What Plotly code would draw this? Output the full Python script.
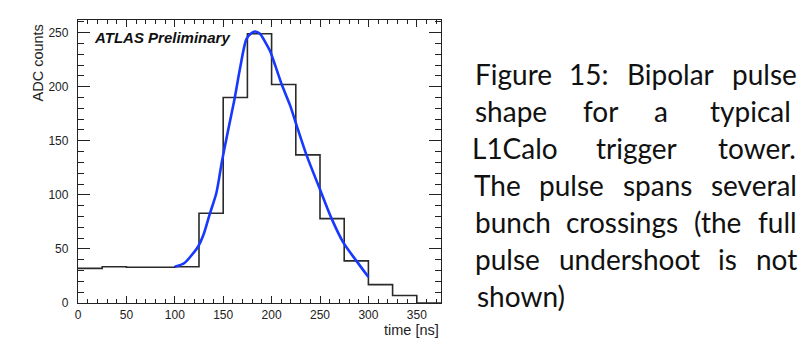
import plotly.graph_objects as go

# ---- data ----
bin_edges = [0, 25, 50, 75, 100, 125, 150, 175, 200, 225, 250, 275, 300, 325, 350, 375]
adc_counts = [32, 33.5, 33, 33, 33.5, 83, 190, 249, 202, 137, 78, 39, 17, 7, 0]

fit_time = [100, 110, 119, 124, 130, 136, 143, 148.5, 154, 162, 167.4, 174, 179, 183,
            188, 193, 198.4, 204, 210.5, 219, 227, 236, 250, 262, 274, 288, 300]
fit_adc = [33.5, 37, 46, 52, 64, 82, 102, 130, 155, 190, 217, 244, 249.5, 251,
           249, 242, 233, 219, 202, 183, 161, 137, 105, 78, 56, 38.5, 24]

x_ticks = [0, 50, 100, 150, 200, 250, 300, 350]
y_ticks = [0, 50, 100, 150, 200, 250]

caption_lines = [
    ["Figure", "15:", "Bipolar", "pulse"],
    ["shape", "for", "a", "typical"],
    ["L1Calo", "trigger", "tower."],
    ["The", "pulse", "spans", "several"],
    ["bunch", "crossings", "(the", "full"],
    ["pulse", "undershoot", "is", "not"],
    ["shown)"],
]

# ---- layout geometry (pixels) ----
W, H = 801, 343
ML, MR, MT, MB = 78, 360, 20, 40
PW, PH = W - ML - MR, H - MT - MB


def px(xp):
    return (xp - ML) / PW


def py(yp):
    return 1 - (yp - MT) / PH


step_x = bin_edges[:]
step_y = adc_counts + [adc_counts[-1]]

fig = go.Figure()
fig.add_trace(go.Scatter(x=step_x, y=step_y, mode="lines", line_shape="hv",
                         line=dict(color="#2a2a2a", width=1.6), hoverinfo="skip"))
fig.add_trace(go.Scatter(x=fit_time, y=fit_adc, mode="lines", line_shape="spline",
                         line=dict(color="#1638ff", width=2.6, smoothing=0.8), hoverinfo="skip"))

axis_font = dict(family="Liberation Sans, Arial, sans-serif", size=12, color="#222")
title_font = dict(family="Liberation Sans, Arial, sans-serif", size=14.5, color="#222")
fig.update_xaxes(range=[0, 375], tickvals=x_ticks, ticks="inside", ticklen=7, tickwidth=1,
                 tickcolor="#222", showline=True, linecolor="#222", linewidth=1.3,
                 mirror="allticks", showgrid=False, zeroline=False, tickfont=axis_font,
                 minor=dict(dtick=10, ticklen=4, ticks="inside", tickcolor="#222", tickwidth=1))
fig.update_yaxes(range=[0, 261.7], tickvals=y_ticks, ticks="inside", ticklen=12, tickwidth=1,
                 tickcolor="#222", showline=True, linecolor="#222", linewidth=1.3,
                 mirror="allticks", showgrid=False, zeroline=False, tickfont=axis_font,
                 ticklabelstandoff=6,
                 minor=dict(dtick=10, ticklen=5.5, ticks="inside", tickcolor="#222", tickwidth=1))

annotations = [
    dict(text="ATLAS Preliminary", x=px(92), y=py(37.5), xref="paper", yref="paper",
         xanchor="left", yanchor="middle", showarrow=False,
         font=dict(family="Liberation Sans, Arial, sans-serif", size=15, color="#111",
                   weight="bold", style="italic")),
    dict(text="ADC counts", x=px(38), y=py(63.5), xref="paper", yref="paper",
         xanchor="center", yanchor="middle", showarrow=False, textangle=-90,
         font=title_font),
    dict(text="time [ns]", x=px(441), y=py(330), xref="paper", yref="paper",
         xanchor="right", yanchor="middle", showarrow=False, font=title_font),
]

# caption, justified word by word
word_centers = [
    [513, 588.8, 670, 764.5],
    [511.3, 600.5, 660.7, 750.1],
    [515.4, 636.3, 756.9],
    [497.7, 571.3, 657, 753.6],
    [512.8, 621.9, 717.9, 777.7],
    [507.5, 629.2, 727.7, 776.2],
]
line_mid = [74 + 37 * i for i in range(len(caption_lines))]
cap_font = dict(family="Lato, 'Noto Sans', sans-serif", size=28, color="#111")
for i, words in enumerate(caption_lines):
    yb = line_mid[i]
    if i < len(word_centers):
        for w, xc in zip(words, word_centers[i]):
            annotations.append(dict(text=w, x=px(xc), y=py(yb), xref="paper", yref="paper",
                                    xanchor="center", yanchor="middle", showarrow=False,
                                    font=cap_font))
    else:
        annotations.append(dict(text=" ".join(words), x=px(475), y=py(yb), xref="paper",
                                yref="paper", xanchor="left", yanchor="middle",
                                showarrow=False, font=cap_font))

fig.update_layout(width=W, height=H, margin=dict(l=ML, r=MR, t=MT, b=MB),
                  paper_bgcolor="white", plot_bgcolor="white", showlegend=False,
                  annotations=annotations)

fig.write_html("out.html", config={"displayModeBar": False},
               post_script="document.body.style.margin='0px';document.body.style.overflow='hidden';")
